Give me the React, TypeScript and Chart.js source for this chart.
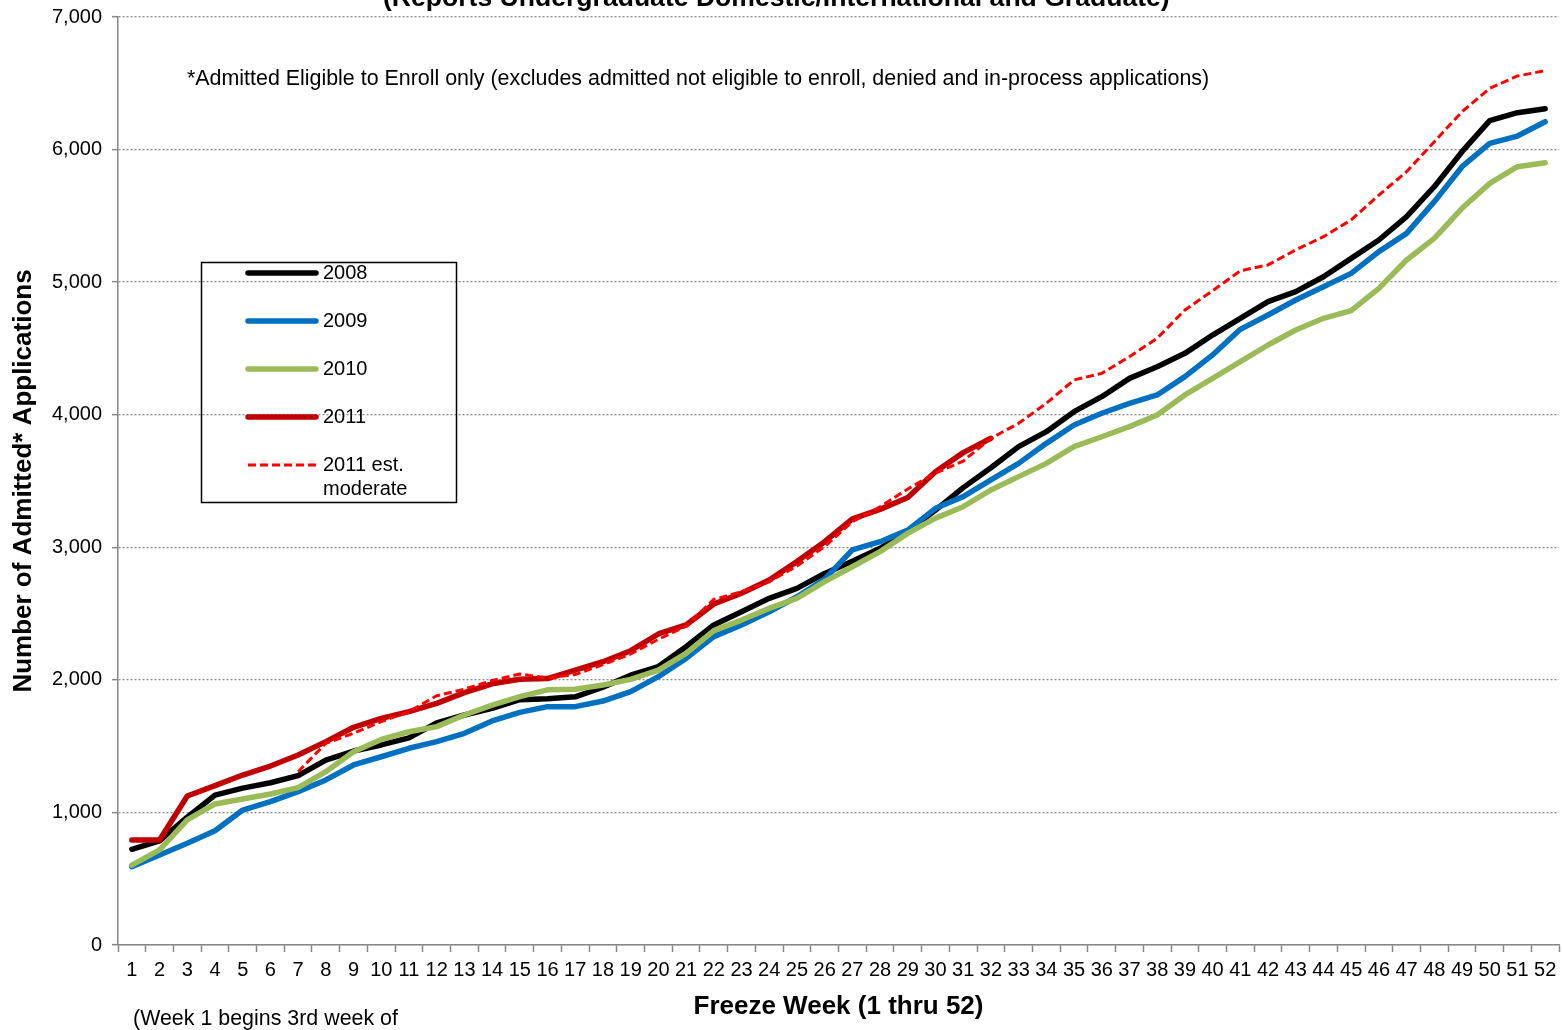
import React, { useEffect, useRef } from "react";
import { Chart, registerables } from "chart.js";

Chart.register(...registerables);

const FONT = "'Liberation Sans', Arial, Helvetica, sans-serif";

const weeks = [
  "1", "2", "3", "4", "5", "6", "7", "8", "9", "10", "11", "12", "13",
  "14", "15", "16", "17", "18", "19", "20", "21", "22", "23", "24", "25", "26",
  "27", "28", "29", "30", "31", "32", "33", "34", "35", "36", "37", "38", "39",
  "40", "41", "42", "43", "44", "45", "46", "47", "48", "49", "50", "51", "52",
];

const admitted2008 = [
  722, 785, 965, 1131, 1183, 1224, 1278, 1395, 1463, 1509, 1562, 1675, 1735,
  1785, 1850, 1858, 1872, 1945, 2035, 2100, 2250, 2414, 2514, 2615, 2690, 2803,
  2895, 2992, 3120, 3280, 3450, 3600, 3759, 3872, 4023, 4136, 4274, 4362, 4463,
  4601, 4727, 4853, 4928, 5041, 5179, 5318, 5494, 5720, 5984, 6218, 6278, 6308,
];

const admitted2009 = [
  591, 679, 767, 862, 1018, 1081, 1157, 1245, 1358, 1420, 1484, 1534, 1597,
  1690, 1755, 1798, 1798, 1840, 1911, 2024, 2162, 2326, 2414, 2514, 2627, 2760,
  2980, 3042, 3130, 3294, 3382, 3508, 3633, 3784, 3922, 4011, 4086, 4149, 4287,
  4451, 4644, 4752, 4865, 4966, 5066, 5230, 5368, 5607, 5871, 6047, 6102, 6210,
];

const admitted2010 = [
  603, 717, 943, 1064, 1101, 1139, 1187, 1307, 1458, 1550, 1609, 1647, 1735,
  1810, 1873, 1925, 1929, 1961, 2004, 2074, 2200, 2371, 2451, 2539, 2615, 2741,
  2853, 2967, 3105, 3220, 3306, 3432, 3533, 3633, 3759, 3834, 3910, 3998, 4149,
  4274, 4400, 4526, 4639, 4727, 4785, 4953, 5167, 5330, 5557, 5745, 5871, 5901,
];

const admitted2011 = [
  792, 792, 1124, 1202, 1282, 1350, 1433, 1534, 1642, 1710, 1760, 1823, 1904,
  1970, 2004, 2010, 2074, 2137, 2220, 2346, 2414, 2572, 2653, 2753, 2892, 3042,
  3215, 3286, 3376, 3570, 3714, 3822, null, null, null, null, null, null, null,
  null, null, null, null, null, null, null, null, null, null, null, null, null,
];

const estimate2011 = [
  null, null, null, null, null, null, 1307, 1521, 1597, 1685, 1760, 1880, 1930,
  1995, 2044, 2015, 2040, 2115, 2195, 2306, 2405, 2607, 2665, 2740, 2859, 3005,
  3193, 3306, 3440, 3560, 3650, 3822, 3935, 4086, 4262, 4312, 4438, 4577, 4790,
  4935, 5086, 5130, 5243, 5343, 5469, 5657, 5833, 6059, 6286, 6462, 6555, 6595,
];

const seriesLabels = ["2008", "2009", "2010", "2011", "2011 est.|moderate"];
const seriesColors = ["#000000", "#0070C0", "#9BBB59", "#C00000", "#FF0000"];

const titleText = "(Reports Undergraduate Domestic/International and Graduate)";
const noteText =
  "*Admitted Eligible to Enroll only (excludes admitted not eligible to enroll, denied and in-process applications)";
const weekNote = "(Week 1 begins 3rd week of";
const xTitle = "Freeze Week (1 thru 52)";
const yTitle = "Number of Admitted* Applications";

function fitText(
  ctx: CanvasRenderingContext2D,
  text: string,
  x: number,
  y: number,
  width: number,
  weight: string,
  baseSize: number
) {
  ctx.font = `${weight} ${baseSize}px ${FONT}`;
  const w = ctx.measureText(text).width;
  const size = (baseSize * width) / w;
  ctx.font = `${weight} ${size}px ${FONT}`;
  ctx.fillText(text, x, y);
}

const overlayPlugin = {
  id: "overlayTexts",
  afterDraw(chart: any) {
    const ctx: CanvasRenderingContext2D = chart.ctx;
    ctx.save();
    ctx.fillStyle = "#000";
    ctx.textAlign = "left";

    // cut-off title at top
    ctx.textBaseline = "alphabetic";
    fitText(ctx, titleText, 383, 6, 787, "bold", 26);

    // note
    ctx.textBaseline = "middle";
    fitText(ctx, noteText, 187, 79, 1023, "normal", 20);

    // week note
    fitText(ctx, weekNote, 133, 1019, 265, "normal", 19);

    // legend box
    ctx.strokeStyle = "#000";
    ctx.lineWidth = 1.5;
    ctx.strokeRect(201.5, 262.5, 255, 240);

    const ds = chart.data.datasets;
    for (let i = 0; i < ds.length; i++) {
      const y = 273 + i * 48;
      ctx.save();
      ctx.strokeStyle = ds[i].borderColor;
      ctx.lineWidth = ds[i].borderWidth;
      ctx.lineCap = ds[i].borderDash ? "butt" : "round";
      ctx.setLineDash(ds[i].borderDash || []);
      ctx.beginPath();
      ctx.moveTo(248, y);
      ctx.lineTo(316, y);
      ctx.stroke();
      ctx.restore();
      ctx.font = `20px ${FONT}`;
      ctx.fillStyle = "#000";
      ctx.textBaseline = "middle";
      const parts = String(seriesLabels[i]).split("|");
      parts.forEach((p, k) => ctx.fillText(p, 323, y + k * 24));
    }
    ctx.restore();
  },
};

export default function App() {
  const ref = useRef<HTMLCanvasElement | null>(null);

  useEffect(() => {
    if (!ref.current) return;
    const solid = {
      borderWidth: 5.5,
      borderCapStyle: "round",
      borderJoinStyle: "round",
      pointRadius: 0,
      fill: false,
      tension: 0,
    };
    const chart = new Chart(ref.current, {
      type: "line",
      data: {
        labels: weeks,
        datasets: [
          { ...solid, label: seriesLabels[0], data: admitted2008, borderColor: seriesColors[0], order: 5 },
          { ...solid, label: seriesLabels[1], data: admitted2009, borderColor: seriesColors[1], order: 4 },
          { ...solid, label: seriesLabels[2], data: admitted2010, borderColor: seriesColors[2], order: 3 },
          { ...solid, label: seriesLabels[3], data: admitted2011, borderColor: seriesColors[3], order: 2 },
          {
            label: seriesLabels[4],
            data: estimate2011,
            borderColor: seriesColors[4],
            borderWidth: 3,
            borderDash: [8, 4],
            borderCapStyle: "butt",
            borderJoinStyle: "round",
            pointRadius: 0,
            fill: false,
            tension: 0,
            order: 1,
          },
        ] as any,
      },
      options: {
        responsive: false,
        animation: false,
        events: [],
        layout: { padding: { top: 17, right: 4, left: 0, bottom: 0 } },
        plugins: {
          legend: { display: false },
          tooltip: { enabled: false },
          title: { display: false },
        },
        scales: {
          x: {
            type: "category",
            offset: true,
            grid: {
              display: true,
              drawOnChartArea: false,
              drawTicks: true,
              tickLength: 7,
              tickColor: "#868686",
              tickWidth: 1.5,
              offset: true,
            },
            border: { display: true, color: "#868686", width: 1.5 },
            ticks: {
              autoSkip: false,
              maxRotation: 0,
              minRotation: 0,
              color: "#000",
              font: { family: FONT, size: 20 },
              padding: 6,
            },
            title: {
              display: true,
              text: xTitle,
              color: "#000",
              font: { family: FONT, size: 26, weight: "bold" },
              padding: { top: 0, bottom: 8 },
            },
            afterFit: (s: any) => {
              s.height = 85;
              s.paddingLeft = 0;
              s.paddingRight = 0;
            },
          },
          y: {
            min: 0,
            max: 7000,
            ticks: {
              stepSize: 1000,
              color: "#000",
              font: { family: FONT, size: 20 },
              padding: 10,
              callback: (v: any) => Number(v).toLocaleString("en-US"),
            },
            grid: {
              color: "#8a8a8a",
              lineWidth: 1.3,
              drawTicks: true,
              tickLength: 6,
              tickColor: "#868686",
              tickWidth: 1.5,
              tickBorderDash: [],
            },
            border: { display: true, color: "#868686", width: 1.5, dash: [2, 2] },
            title: {
              display: true,
              text: yTitle,
              color: "#000",
              font: { family: FONT, size: 26, weight: "bold" },
              padding: { top: 8, bottom: 0 },
            },
            afterFit: (s: any) => {
              s.width = 118;
              s.paddingTop = 0;
              s.paddingBottom = 0;
            },
          },
        },
      } as any,
      plugins: [overlayPlugin],
    });
    return () => chart.destroy();
  }, []);

  return (
    <canvas
      ref={ref}
      width={1563}
      height={1030}
      style={{ position: "fixed", left: 0, top: 0, width: 1563, height: 1030, background: "#fff" }}
    />
  );
}
